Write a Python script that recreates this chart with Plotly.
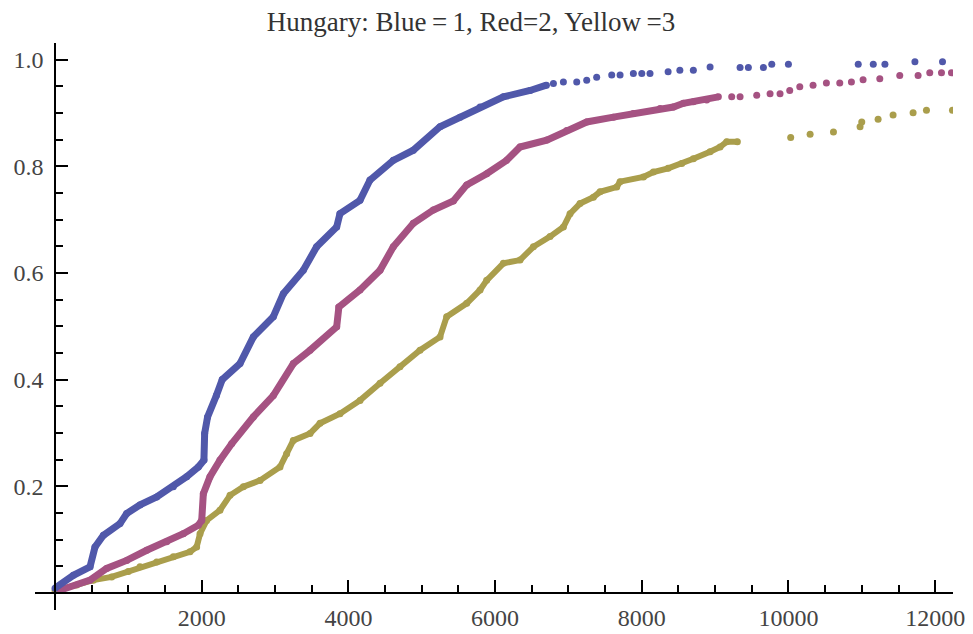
import plotly.graph_objects as go

blue_x = [0, 250, 477, 545, 660, 886, 977, 1159, 1386, 1613, 1795, 1954, 2030, 2040, 2080,
          2200, 2280, 2522, 2704, 2976, 3113, 3385, 3567, 3840, 3885, 4158, 4294, 4612, 4885,
          5249, 5522, 5795, 6113, 6477, 6700]
blue_y = [0.009, 0.033, 0.049, 0.086, 0.108, 0.130, 0.149, 0.165, 0.180, 0.199, 0.218, 0.236, 0.249, 0.299, 0.330,
          0.370, 0.400, 0.430, 0.480, 0.518, 0.561, 0.605, 0.649, 0.686, 0.711, 0.736, 0.774, 0.811, 0.830,
          0.874, 0.892, 0.911, 0.930, 0.942, 0.952]
blue_tail_x = [6795, 6931, 7113, 7249, 7385, 7590, 7704, 7885, 8000, 8112, 8359, 8519, 8703, 8931,
               9340, 9453, 9658, 9772, 9999, 10951, 11156, 11315, 11724, 12100]
blue_tail_y = [0.955, 0.958, 0.958, 0.961, 0.967, 0.971, 0.971, 0.974, 0.974, 0.974, 0.977, 0.980, 0.980, 0.986,
               0.985, 0.985, 0.985, 0.991, 0.991, 0.991, 0.991, 0.991, 0.996, 0.996]

red_x = [68, 477, 704, 977, 1250, 1522, 1749, 1954, 2000, 2022, 2113, 2249, 2410, 2704, 2976,
         3249, 3477, 3840, 3870, 4158, 4431, 4612, 4885, 5158, 5431, 5613, 5885, 6158, 6340,
         6704, 6976, 7249, 7613, 7885, 8249, 8431, 8567, 8703, 8885, 9044]
red_y = [0.005, 0.024, 0.046, 0.061, 0.080, 0.096, 0.111, 0.127, 0.136, 0.186, 0.218, 0.249, 0.280, 0.330, 0.370,
         0.430, 0.455, 0.499, 0.536, 0.568, 0.605, 0.649, 0.693, 0.718, 0.735, 0.765, 0.786, 0.811, 0.836,
         0.849, 0.867, 0.883, 0.892, 0.899, 0.908, 0.911, 0.918, 0.921, 0.924, 0.930]
red_tail_x = [9226, 9340, 9567, 9749, 9885, 10017, 10154, 10335, 10517, 10699, 10858, 11017,
              11245, 11517, 11767, 11926, 12086, 12222]
red_tail_y = [0.930, 0.930, 0.933, 0.936, 0.936, 0.942, 0.949, 0.952, 0.956, 0.956, 0.958, 0.962,
              0.964, 0.970, 0.970, 0.975, 0.975, 0.975]

yellow_x = [0, 295, 522, 772, 999, 1159, 1386, 1613, 1840, 1931, 1977, 2067, 2249, 2386, 2568,
            2795, 3067, 3158, 3249, 3477, 3613, 3885, 4158, 4431, 4703, 4976, 5249, 5340, 5613,
            5795, 5885, 6113, 6340, 6522, 6749, 6931, 7022, 7158, 7340, 7431, 7658, 7704, 8022,
            8158, 8359, 8544, 8703, 8931, 9067, 9158, 9303]
yellow_y = [0.004, 0.015, 0.024, 0.030, 0.040, 0.049, 0.058, 0.068, 0.077, 0.086, 0.111, 0.136, 0.155, 0.183, 0.199,
            0.211, 0.236, 0.261, 0.286, 0.299, 0.318, 0.336, 0.361, 0.393, 0.424, 0.455, 0.480, 0.518, 0.543,
            0.568, 0.586, 0.618, 0.624, 0.649, 0.668, 0.686, 0.711, 0.730, 0.742, 0.752, 0.761, 0.771, 0.780,
            0.789, 0.796, 0.805, 0.814, 0.827, 0.836, 0.846, 0.846]
yellow_tail_x = [10030, 10295, 10613, 10976, 10999, 11222, 11426, 11699, 11881, 12236]
yellow_tail_y = [0.854, 0.860, 0.864, 0.874, 0.883, 0.888, 0.896, 0.900, 0.905, 0.905]

x_ticks = [2000, 4000, 6000, 8000, 10000, 12000]
y_ticks = [0.2, 0.4, 0.6, 0.8, 1.0]
y_tick_text = ["0.2", "0.4", "0.6", "0.8", "1.0"]
title_text = "Hungary: Blue\u2009=\u20091, Red=2, Yellow\u2009=3"

# ---- styling ----
BLUE = "#5058AA"
RED = "#A55282"
YELLOW = "#AA9E4C"
SERIF = "Liberation Serif, Times New Roman, serif"

fig = go.Figure()
series = [
    (yellow_x, yellow_y, yellow_tail_x, yellow_tail_y, YELLOW, 6),
    (red_x, red_y, red_tail_x, red_tail_y, RED, 7),
    (blue_x, blue_y, blue_tail_x, blue_tail_y, BLUE, 7),
]
for xs, ys, tx, ty, col, lw in series:
    fig.add_trace(go.Scatter(x=xs, y=ys, mode="lines+markers",
                             line=dict(color=col, width=lw),
                             marker=dict(color=col, size=7),
                             showlegend=False, hoverinfo="skip"))
    fig.add_trace(go.Scatter(x=tx, y=ty, mode="markers",
                             marker=dict(color=col, size=7),
                             showlegend=False, hoverinfo="skip"))

xmin, xmax = -273, 12243
ymin, ymax = -0.032, 1.031

# the page body has an 8px margin, so the figure is 8px smaller and shifted
W, H = 965, 626

fig.update_layout(
    width=W, height=H,
    margin=dict(l=27, r=20, t=35, b=24),
    paper_bgcolor="white", plot_bgcolor="white",
    title=dict(text=title_text, x=0.475, xref="paper", y=1 - 14 / H, yref="container",
               xanchor="center", yanchor="middle",
               font=dict(family=SERIF, size=27, color="#333333")),
    xaxis=dict(range=[xmin, xmax], showgrid=False, zeroline=False,
               showline=True, linecolor="black", linewidth=1.5,
               anchor="free", position=(0 - ymin) / (ymax - ymin),
               tickmode="array", tickvals=x_ticks, ticktext=[str(v) for v in x_ticks],
               ticks="inside", ticklen=12, tickwidth=1.5, tickcolor="black",
               minor=dict(tickmode="linear", tick0=0, dtick=500, ticks="inside",
                          ticklen=7, tickwidth=1.5, tickcolor="black"),
               tickfont=dict(family=SERIF, size=24, color="#444444"),
               ticklabelstandoff=4, automargin=False),
    yaxis=dict(range=[ymin, ymax], showgrid=False, zeroline=False,
               showline=True, linecolor="black", linewidth=1.5,
               anchor="free", position=(0 - xmin) / (xmax - xmin),
               tickmode="array", tickvals=y_ticks, ticktext=y_tick_text,
               ticks="inside", ticklen=12, tickwidth=1.5, tickcolor="black",
               minor=dict(tickmode="linear", tick0=0, dtick=0.05, ticks="inside",
                          ticklen=7, tickwidth=1.5, tickcolor="black"),
               tickfont=dict(family=SERIF, size=24, color="#444444"),
               ticklabelstandoff=6, automargin=False),
)

fig.write_html("out.html")
